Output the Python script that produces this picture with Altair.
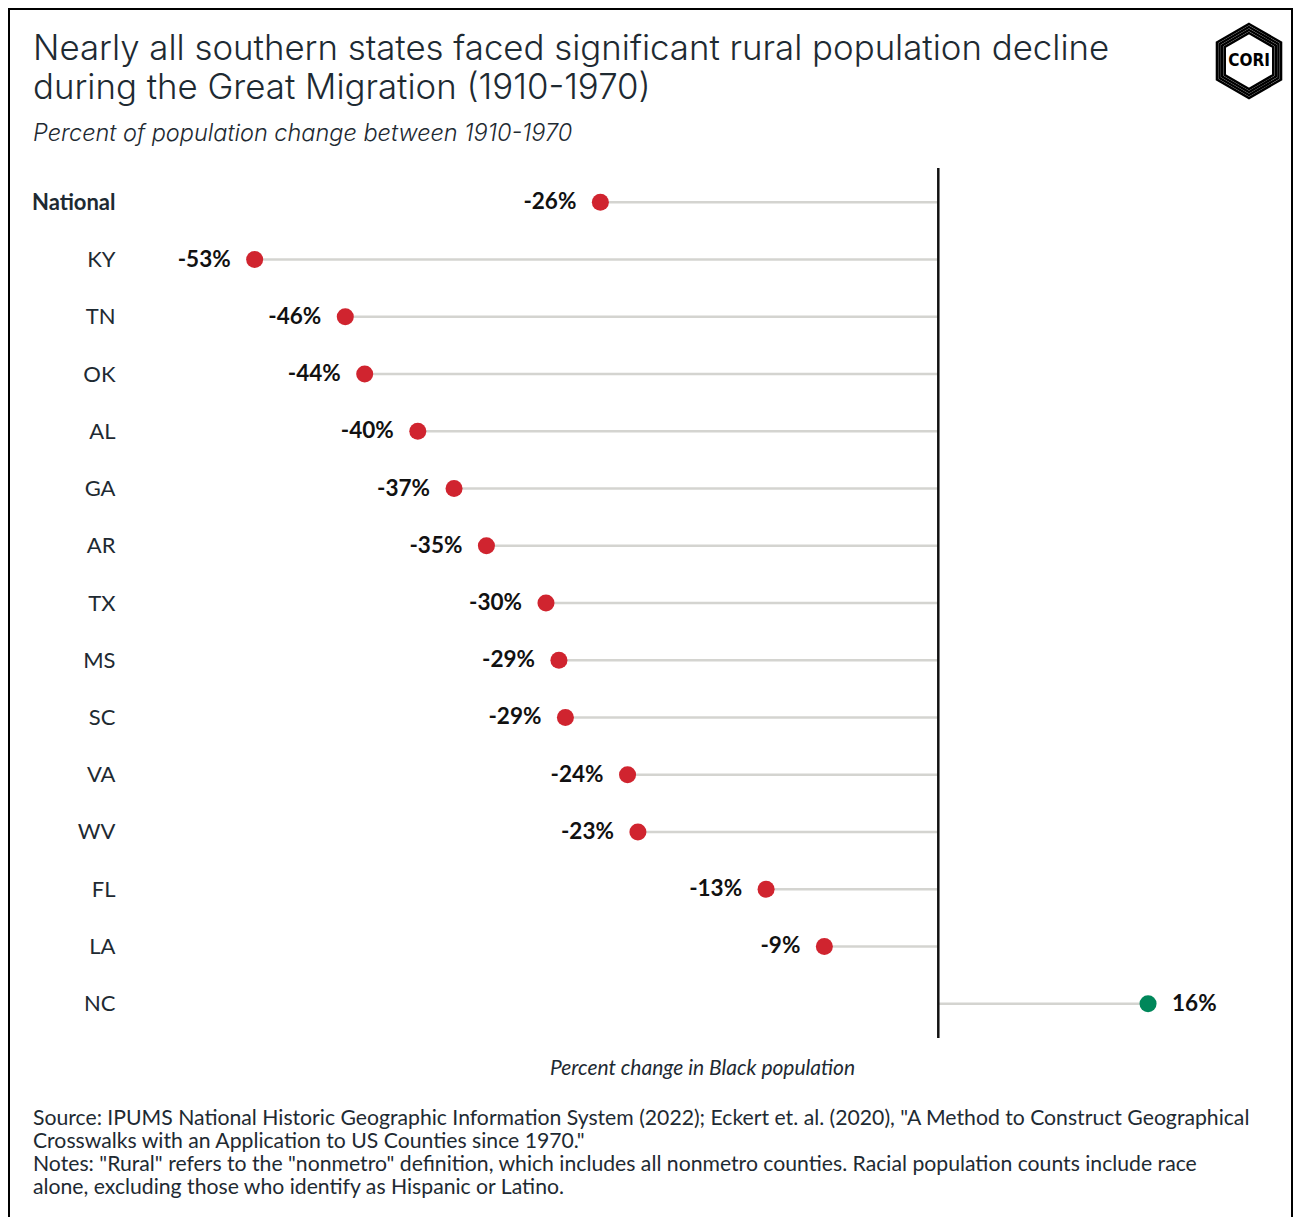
import altair as alt
import pandas as pd

states = ["National", "KY", "TN", "OK", "AL", "GA", "AR", "TX", "MS", "SC", "VA", "WV", "FL", "LA", "NC"]
values = [-26.1, -52.8, -45.8, -44.3, -40.2, -37.4, -34.9, -30.3, -29.3, -28.8, -24.0, -23.2, -13.3, -8.8, 16.2]
labels = ["-26%", "-53%", "-46%", "-44%", "-40%", "-37%", "-35%", "-30%", "-29%", "-29%", "-24%", "-23%", "-13%", "-9%", "16%"]

title_lines = ["Nearly all southern states faced significant rural population decline",
               "during the Great Migration (1910-1970)"]
subtitle = "Percent of population change between 1910-1970"
x_title = "Percent change in Black population"
notes = [
    "Source: IPUMS National Historic Geographic Information System (2022); Eckert et. al. (2020), \"A Method to Construct Geographical",
    "Crosswalks with an Application to US Counties since 1970.\"",
    "Notes: \"Rural\" refers to the \"nonmetro\" definition, which includes all nonmetro counties. Racial population counts include race",
    "alone, excluding those who identify as Hispanic or Latino.",
]

df = pd.DataFrame({"state": states, "value": values, "label": labels})
one = pd.DataFrame({"a": [0]})

TEXT = "#1e2a32"
RED = "#d0242f"
GREEN = "#00875a"
FONT = "Lato"
TFONT = "Inter"

x_enc = alt.X("value:Q", scale=alt.Scale(domain=[-61.5, 25], nice=False, zero=False),
              axis=alt.Axis(title=x_title, labels=False, ticks=False, domain=False, grid=False,
                            titleFont=FONT, titleFontSize=21, titleFontStyle="italic",
                            titleFontWeight="normal", titleColor=TEXT, titlePadding=19))
y_enc = alt.Y("state:N", sort=states, scale=alt.Scale(type="point", padding=0.6),
              axis=alt.Axis(title=None, ticks=False, domain=False, grid=False,
                            labelFont=FONT, labelFontSize=22, labelColor=TEXT, labelPadding=27,
                            labelFontWeight=alt.condition('datum.value == "National"', alt.value("bold"), alt.value("normal"))))

base = alt.Chart(df)

stems = base.mark_rule(color="#d4d4d0", strokeWidth=2.5).encode(
    x=x_enc, x2=alt.datum(0), y=y_enc)

zero = alt.Chart(one).mark_rule(color="#111111", strokeWidth=2.5).encode(x=alt.datum(0))

dots = base.mark_circle(size=290, opacity=1).encode(
    x="value:Q", y=alt.Y("state:N", sort=states),
    color=alt.condition(alt.datum.value > 0, alt.value(GREEN), alt.value(RED)))

lab_neg = base.transform_filter(alt.datum.value < 0).mark_text(
    align="right", baseline="middle", dx=-24, font=FONT, fontSize=22.5, fontWeight="bold", color="#111111").encode(
    x="value:Q", y=alt.Y("state:N", sort=states), text="label:N")

lab_pos = base.transform_filter(alt.datum.value > 0).mark_text(
    align="left", baseline="middle", dx=24, font=FONT, fontSize=22.5, fontWeight="bold", color="#111111").encode(
    x="value:Q", y=alt.Y("state:N", sort=states), text="label:N")

title = alt.Chart(one).mark_text(
    text=title_lines, align="left", baseline="alphabetic", font=TFONT, fontSize=34.8,
    fontWeight=300, color=TEXT, lineHeight=39).encode(x=alt.value(-109), y=alt.value(-108))

sub = alt.Chart(one).mark_text(
    text=subtitle, align="left", baseline="alphabetic", font=TFONT, fontSize=23.5,
    fontStyle="italic", fontWeight=300, color=TEXT).encode(x=alt.value(-109), y=alt.value(-27))

foot = alt.Chart(one).mark_text(
    text=notes, align="left", baseline="alphabetic", font=FONT, fontSize=21.2,
    color=TEXT, lineHeight=23).encode(x=alt.value(-109), y=alt.value(957))

border = alt.Chart(one).mark_rect(filled=False, stroke="#000000", strokeWidth=2).encode(
    x=alt.value(-133), x2=alt.value(1150), y=alt.value(-159), y2=alt.value(1080))

hexpath = "M0,-1L0.866,-0.5L0.866,0.5L0,1L-0.866,0.5L-0.866,-0.5Z"
logo_layers = []
for s in [74, 68, 62, 56]:
    logo_layers.append(alt.Chart(one).mark_point(shape=hexpath, size=s * s, filled=False,
                                                 stroke="#000000", strokeWidth=2.5, opacity=1).encode(
        x=alt.value(1107), y=alt.value(-107)))
logo_text = alt.Chart(one).mark_text(text="CORI", font="DejaVu Sans Condensed", fontSize=17,
                                     fontWeight="bold", color="#000000", baseline="middle").encode(
    x=alt.value(1107), y=alt.value(-107))

chart = alt.layer(border, title, sub, *logo_layers, logo_text, stems, zero, dots, lab_neg, lab_pos, foot).properties(
    width=1120, height=870,
    padding={"left": 134, "top": 160, "right": 39, "bottom": 179},
    autosize=alt.AutoSizeParams(type="none"),
    background="white",
).configure_view(strokeWidth=0, stroke=None)

chart.save("out.html", embed_options={"renderer": "svg", "actions": False})
